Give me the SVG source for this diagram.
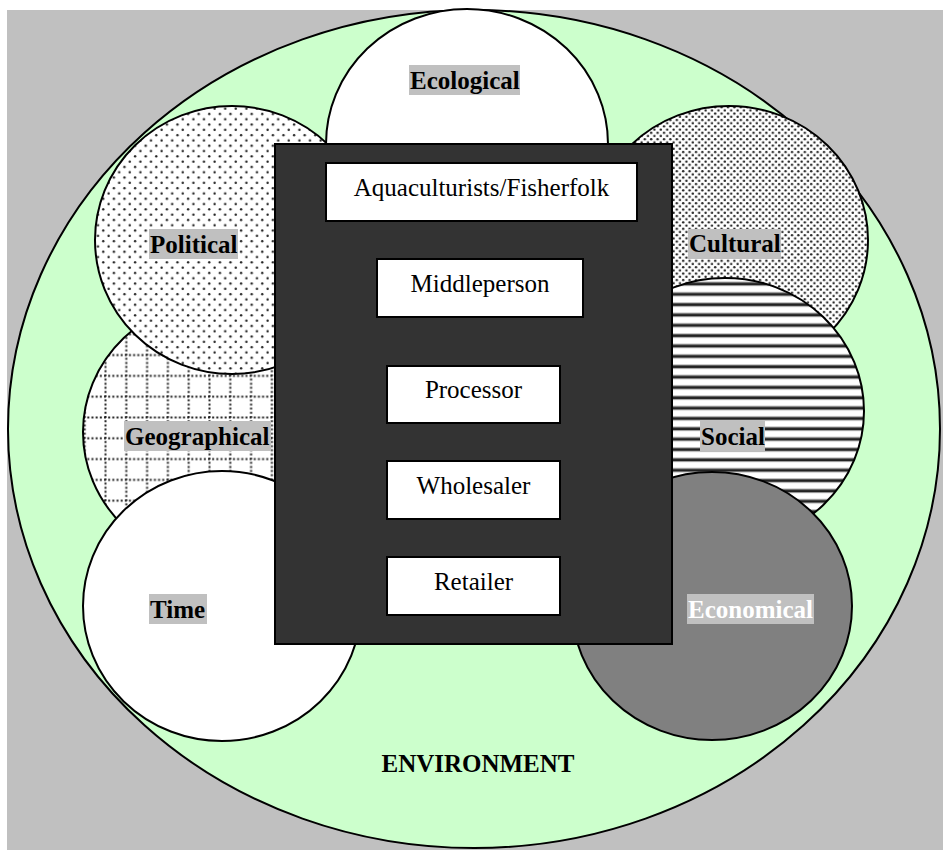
<svg xmlns="http://www.w3.org/2000/svg" width="943" height="850" viewBox="0 0 943 850">
<style>
.c{stroke:#000;stroke-width:2}
.lbl{font-family:"Liberation Serif","Times New Roman",serif;font-weight:bold;font-size:25px;fill:#000}
.bg{fill:#c0c0c0}
.box{fill:#fff;stroke:#000;stroke-width:2}
.bt{font-family:"Liberation Serif","Times New Roman",serif;font-size:25px;fill:#000;text-anchor:middle}
</style>
<defs>
<pattern id="pPol" patternUnits="userSpaceOnUse" width="10.6" height="10.6">
<rect width="10.6" height="10.6" fill="#fff"/>
<circle cx="2.6" cy="2.6" r="1.2" fill="#222"/>
<circle cx="7.9" cy="7.9" r="1.2" fill="#222"/>
</pattern>
<pattern id="pCul" patternUnits="userSpaceOnUse" width="6.4" height="6.4">
<rect width="6.4" height="6.4" fill="#fff"/>
<circle cx="1.6" cy="1.6" r="1.2" fill="#222"/>
<circle cx="4.8" cy="4.8" r="1.2" fill="#222"/>
</pattern>
<pattern id="pGeo" patternUnits="userSpaceOnUse" width="20.8" height="20.8">
<rect width="20.8" height="20.8" fill="#fff"/>
<line x1="0" y1="1.5" x2="20.8" y2="1.5" stroke="#222" stroke-width="2" stroke-dasharray="2 2.16"/>
<line x1="1.5" y1="0" x2="1.5" y2="20.8" stroke="#222" stroke-width="2" stroke-dasharray="2 2.16"/>
</pattern>
<pattern id="pSoc" patternUnits="userSpaceOnUse" width="20" height="10.35">
<rect width="20" height="10.35" fill="#fff"/>
<rect y="3" width="20" height="3" fill="#222"/>
<rect y="2.3" width="20" height="0.7" fill="#999"/>
<rect y="6" width="20" height="0.7" fill="#999"/>
</pattern>
</defs>
<rect x="7" y="10" width="936" height="840" fill="#c0c0c0"/>
<g id="environment">
<ellipse cx="474" cy="429" rx="466" ry="419" fill="#ccffcc" class="c"/>
<text x="478" y="772" class="lbl" text-anchor="middle">ENVIRONMENT</text>
</g>
<g id="geographical">
<ellipse cx="222" cy="432" rx="139" ry="133" fill="url(#pGeo)" class="c"/>
</g>
<g id="political">
<ellipse cx="232" cy="240" rx="137" ry="134" fill="url(#pPol)" class="c"/>
</g>
<g id="cultural">
<ellipse cx="729" cy="240" rx="139" ry="134" fill="url(#pCul)" class="c"/>
</g>
<g id="ecological">
<ellipse cx="467" cy="144" rx="141" ry="135" fill="#fff" class="c"/>
</g>
<g id="social">
<ellipse cx="725" cy="411" rx="139" ry="133" fill="url(#pSoc)" class="c"/>
</g>
<g id="economical">
<ellipse cx="712" cy="606" rx="140" ry="134" fill="#808080" class="c"/>
</g>
<g id="time">
<ellipse cx="222" cy="606" rx="139" ry="135" fill="#fff" class="c"/>
</g>
<g id="labels">
<rect x="409" y="65" width="111" height="30" class="bg"/>
<text x="410" y="89" class="lbl">Ecological</text>
<rect x="149" y="229" width="89" height="30" class="bg"/>
<text x="150" y="253" class="lbl">Political</text>
<rect x="688" y="229" width="93" height="30" class="bg"/>
<text x="689" y="252" class="lbl">Cultural</text>
<rect x="124" y="421" width="147" height="30" class="bg"/>
<text x="125" y="445" class="lbl">Geographical</text>
<rect x="700" y="421" width="65" height="30" class="bg"/>
<text x="701" y="445" class="lbl">Social</text>
<rect x="687" y="594" width="127" height="30" class="bg"/>
<text x="688" y="618" class="lbl" style="fill:#fff">Economical</text>
<rect x="149" y="594" width="58" height="30" class="bg"/>
<text x="150" y="618" class="lbl">Time</text>
</g>
<g id="supply-chain">
<rect x="275" y="144" width="397" height="500" fill="#333" stroke="#000" stroke-width="2"/>
<g id="aquaculturists">
<rect x="326" y="163" width="311" height="58" class="box"/>
<text x="481.5" y="196" class="bt">Aquaculturists/Fisherfolk</text>
</g>
<g id="middleperson">
<rect x="377" y="259" width="206" height="58" class="box"/>
<text x="480" y="292" class="bt">Middleperson</text>
</g>
<g id="processor">
<rect x="387" y="366" width="173" height="57" class="box"/>
<text x="473.5" y="398" class="bt">Processor</text>
</g>
<g id="wholesaler">
<rect x="387" y="461" width="173" height="58" class="box"/>
<text x="473.5" y="494" class="bt">Wholesaler</text>
</g>
<g id="retailer">
<rect x="387" y="557" width="173" height="58" class="box"/>
<text x="473.5" y="590" class="bt">Retailer</text>
</g>
</g>
<g id="connectors"></g>
</svg>
